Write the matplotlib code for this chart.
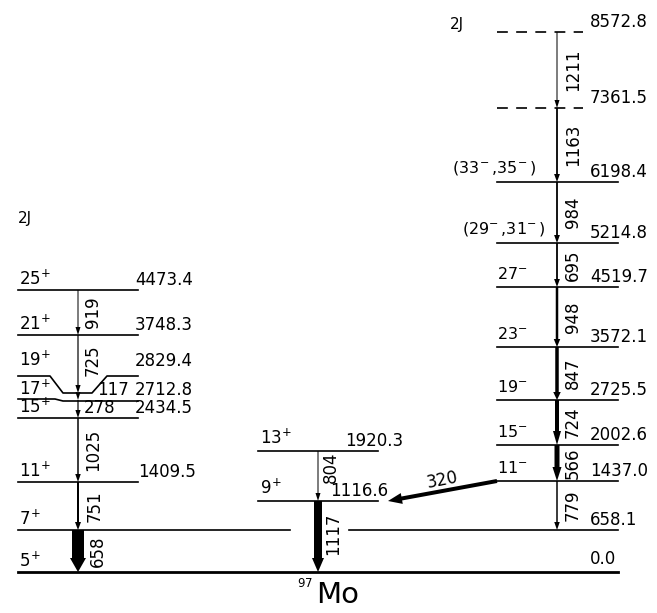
#level scheme 97Mo
import numpy as np
import matplotlib
matplotlib.use('Agg')
import matplotlib.pyplot as plt

# ---- data : spins, level energies (keV), gamma energies ----
left_spins = [r'25$^{\!+}$', r'21$^{\!+}$', r'19$^{\!+}$', r'17$^{\!+}$', r'15$^{\!+}$', r'11$^{\!+}$', r'7$^{\!+}$', r'5$^{\!+}$']
left_energies = ['4473.4', '3748.3', '2829.4', '2712.8', '2434.5', '1409.5', '', '']
left_gammas = ['919', '725', '117', '278', '1025', '751', '658']
left_gamma_width = [1.0, 1.2, 1.0, 1.2, 1.5, 2.0, 12.0]

mid_spins = [r'13$^{\!+}$', r'9$^{\!+}$']
mid_energies = ['1920.3', '1116.6']
mid_gammas = ['804', '1117']
mid_gamma_width = [1.0, 8.0]

right_spins = ['', '', r'(33$^{\!-}$,35$^{\!-}$)', r'(29$^{\!-}$,31$^{\!-}$)', r'27$^{\!-}$', r'23$^{\!-}$',
               r'19$^{\!-}$', r'15$^{\!-}$', r'11$^{\!-}$', '']
right_energies = ['8572.8', '7361.5', '6198.4', '5214.8', '4519.7', '3572.1', '2725.5', '2002.6', '1437.0', '658.1']
right_gammas = ['1211', '1163', '984', '695', '948', '847', '724', '566', '779']
right_gamma_width = [1.0, 1.8, 1.8, 1.8, 2.5, 3.5, 4.0, 5.0, 1.5]
tentative = [True, True] + [False] * 8

link_gamma = '320'
ground_energy = '0.0'

# ---- layout (drawing positions, not energies) ----
left_y = [290, 335, 376, 400, 418, 482, 530, 572]
mid_y = [451, 501]
right_y = [32, 108, 182, 243, 287, 347, 400, 445, 481, 530]

fs = 12
fig = plt.figure(figsize=(6.57, 6.13), dpi=100)
ax = fig.add_axes([0, 0, 1, 1])
ax.set_xlim(0, 657)
ax.set_ylim(613, 0)
ax.axis('off')

def gamma(x, y0, y1, w, label, lx, dy=0):
    hw = max(5, w + 4)
    hl = 8 if w < 4 else 14
    ax.arrow(x, y0, 0, y1 - y0, width=w, head_width=hw, head_length=hl,
             length_includes_head=True, color='black', lw=0)
    ax.text(lx, (y0 + y1) / 2 + dy, label, rotation=90, ha='left', va='center', fontsize=fs)

# left band
xl0, xl1, xg = 18, 138, 78
for i, (s, e, y) in enumerate(zip(left_spins, left_energies, left_y)):
    if i == 2:
        # 19+ level bent down around the gamma line
        ax.plot([18, 50, 63, 92, 107, 138], [y, y, y + 17, y + 17, y, y], c='k', lw=1.2)
    elif i == 3:
        ax.plot([18, 55, 63, 138], [y - 1, y - 1, y + 1, y + 1], c='k', lw=1.2)
    elif i == 6:
        ax.plot([18, 290], [y, y], c='k', lw=1.2)
        ax.plot([349, 618], [y, y], c='k', lw=1.2)
    elif i == 7:
        ax.plot([18, 618], [y, y], c='k', lw=2)
    else:
        ax.plot([xl0, xl1], [y, y], c='k', lw=1.2)
    ax.text(19, y - 1 - (5 if i == 2 else 0), s, ha='left', va='bottom', fontsize=fs)
    if e:
        ax.text(xl1 - 3 if i < 5 else xl1, y - 1 - (5 if i == 2 else 0), e, ha='left', va='bottom', fontsize=fs)

gy = [left_y[0], left_y[1], left_y[2] + 17, left_y[3], left_y[4], left_y[5], left_y[6], left_y[7]]
gamma(xg, gy[0], gy[1], left_gamma_width[0], left_gammas[0], 84)
gamma(xg, gy[1], gy[2], left_gamma_width[1], left_gammas[1], 84, -4)
gamma(xg, gy[2], gy[3], left_gamma_width[2], '', 0)
ax.text(97, gy[3] - 1, left_gammas[2], ha='left', va='bottom', fontsize=fs)
gamma(xg, gy[3], gy[4], left_gamma_width[3], '', 0)
ax.text(84, gy[4] - 1, left_gammas[3], ha='left', va='bottom', fontsize=fs)
gamma(xg, gy[4], gy[5], left_gamma_width[4], left_gammas[4], 84)
gamma(xg, gy[5], gy[6], left_gamma_width[5], left_gammas[5], 86)
gamma(xg, gy[6], gy[7], left_gamma_width[6], left_gammas[6], 89)
ax.text(18, 218, '2J', ha='left', va='center', fontsize=fs - 1)

# middle band
xm0, xm1, xmg = 258, 378, 318
for s, e, y in zip(mid_spins, mid_energies, mid_y):
    ax.plot([xm0, xm1], [y, y], c='k', lw=1.2)
    ax.text(xm0 + 2, y - 3, s, ha='left', va='bottom', fontsize=fs)
ax.text(345, mid_y[0] - 1, mid_energies[0], ha='left', va='bottom', fontsize=fs)
ax.text(330, mid_y[1] - 1, mid_energies[1], ha='left', va='bottom', fontsize=fs)
gamma(xmg, mid_y[0], mid_y[1], mid_gamma_width[0], mid_gammas[0], 322, -9)
gamma(xmg, mid_y[1], left_y[7], mid_gamma_width[1], mid_gammas[1], 324, -3)

# right band
xr0, xr1, xrg = 497, 618, 557
for i, (s, e, y) in enumerate(zip(right_spins, right_energies, right_y)):
    if i == 9:
        pass  # 658.1 shares the 7+ line
    elif tentative[i]:
        ax.plot([xr0, 583], [y, y], c='k', lw=1.2, ls=(0, (6.5, 5.0)))
    else:
        ax.plot([xr0, xr1], [y, y], c='k', lw=1.2)
    ax.text(590, y - 1, e, ha='left', va='bottom', fontsize=fs)
    if s:
        sx = {2: 452, 3: 462}.get(i, 497)
        ax.text(sx, y - 5, s, ha='left', va='bottom', fontsize=fs - 0.5)
ax.text(450, 24, '2J', ha='left', va='center', fontsize=fs - 1)
for i in range(len(right_gammas)):
    gamma(xrg, right_y[i], right_y[i + 1], right_gamma_width[i], right_gammas[i], 564)

# 320 keV link 11- -> 9+
ax.arrow(497, right_y[8], 388 - 497, mid_y[1] - right_y[8], width=4, head_width=11,
         head_length=14, length_includes_head=True, color='black', lw=0)
ax.text(442, 480, link_gamma, rotation=11, ha='center', va='center', fontsize=fs)

ax.text(590, 559, ground_energy, ha='left', va='center', fontsize=fs)
ax.text(297, 597, '$^{97}$', ha='left', va='bottom', fontsize=12)
ax.text(316, 595, 'Mo', ha='left', va='center', fontsize=21)

plt.savefig('out.png', dpi=100)
